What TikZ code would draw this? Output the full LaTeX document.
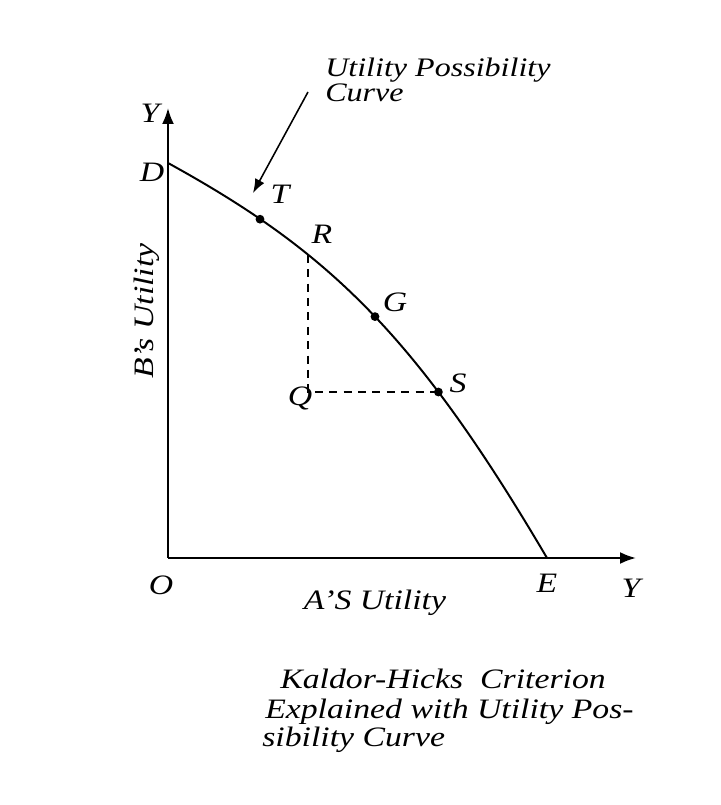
\documentclass[tikz,border=0pt]{standalone}
\usepackage{fontspec}
\setmainfont{Liberation Serif}[FakeStretch=1.2]
\usetikzlibrary{arrows.meta,positioning}

\tikzset{
  lbl/.style={font=\fontsize{20}{21}\selectfont\itshape, inner sep=0pt},
  note/.style={font=\fontsize{19}{20}\selectfont\itshape, inner sep=0pt},
  axis/.style={line width=1.6pt, -{Latex[length=4mm,width=3mm]}},
  upcurve/.style={line width=1.4pt},
  guide/.style={line width=1.1pt, dash pattern=on 0.2cm off 0.16cm},
  dot/.style={circle, fill, inner sep=0pt, minimum size=2.2mm}
}

\begin{document}
\begin{tikzpicture}
\useasboundingbox (-4.2,-6.175) rectangle (13.825,13.95);

% Axes
\coordinate (O) at (0,0);
\coordinate (Ytip) at (0,11.25);
\coordinate (Xtip) at (11.7,0);
\draw[axis] (O) -- (Ytip);
\draw[axis] (O) -- (Xtip);

% Points on the curve
\coordinate (D) at (0,9.875);
\coordinate (T) at (2.3,8.47);
\coordinate (R) at (3.5,7.58);
\coordinate (G) at (5.175,6.035);
\coordinate (S) at (6.76,4.15);
\coordinate (E) at (9.475,0);
\coordinate (Q) at (3.5,4.15);
\coordinate (c1) at (4,7.675);
\coordinate (c2) at (6.175,5.61);

% Utility possibility curve
\draw[upcurve] (D) .. controls (c1) and (c2) .. (E);

\draw[guide] (R) -- (Q) -- (S);

\node[dot] (dT) at (T) {};
\node[dot] (dG) at (G) {};
\node[dot] (dS) at (S) {};

% Labels
\node[lbl] (lY) at (-0.45,11.125) {Y};
\node[lbl] (lD) at (-0.4,9.65) {D};
\node[lbl] (lT) at (2.8,9.1) {T};
\node[lbl] (lR) at (3.85,8.1) {R};
\node[lbl] (lG) at (5.675,6.4) {G};
\node[lbl] (lS) at (7.25,4.375) {S};
\node[lbl] (lQ) at (3.3,4.0) {Q};
\node[lbl] (lO) at (-0.175,-0.675) {O};
\node[lbl] (lE) at (9.475,-0.625) {E};
\node[lbl] (lX) at (11.575,-0.75) {Y};
\node[lbl] (xname) at (5.175,-1.125) {A'S Utility};
\node[lbl, rotate=90] (yname) at (-0.525,6.175) {B's Utility};

% Annotation
\node[note, anchor=base west] (upc1) at (3.925,12.025) {Utility Possibility};
\node[note, anchor=base west] (upc2) at (3.925,11.4) {Curve};
\coordinate (Aend) at (3.5,11.65);
\coordinate (Atip) at (2.125,9.125);
\draw[line width=1.1pt, -{Latex[length=3.5mm,width=2.6mm]}] (Aend) -- (Atip);

% Caption
\node[lbl, anchor=base west] (cap1) at (2.8,-3.25) {Kaldor-Hicks\ \ Criterion};
\node[lbl, anchor=base west] (cap2) at (2.425,-4.0) {Explained with Utility Pos-};
\node[lbl, anchor=base west] (cap3) at (2.35,-4.7) {sibility Curve};
\end{tikzpicture}
\end{document}
